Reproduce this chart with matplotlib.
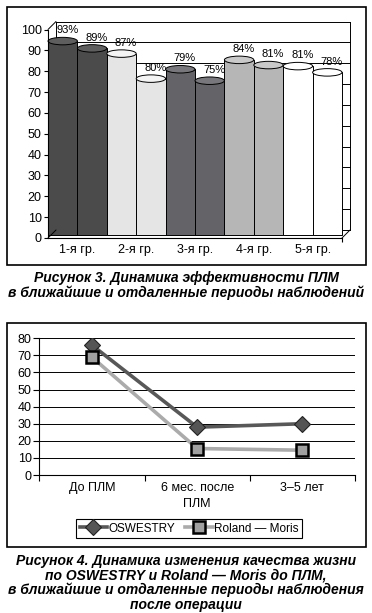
import matplotlib
matplotlib.use("Agg")
import matplotlib.pyplot as plt
import numpy as np
from matplotlib.lines import Line2D
from matplotlib.patches import ConnectionPatch, Ellipse, Rectangle
from matplotlib.transforms import ScaledTranslation

plt.rcParams["font.family"] = ["Liberation Sans", "DejaVu Sans"]

# Figure 3: efficiency by group (two columns per group)
group_labels = ["1-я гр.", "2-я гр.", "3-я гр.", "4-я гр.", "5-я гр."]
bar_values = [93, 89.5, 87, 75, 79.5, 74, 84, 81.5, 81, 78]
bar_labels = ["93%", "89%", "87%", "80%", "79%", "75%", "84%", "81%", "81%", "78%"]
group_colors = ["#4b4b4b", "#e5e5e5", "#646468", "#b6b6b6", "#ffffff"]
cap_colors = ["#5e5e5e", "#f4f4f4", "#78787c", "#c9c9c9", "#ffffff"]

# Figure 4: quality of life scores
periods = ["До ПЛМ", "6 мес. после\nПЛМ", "3–5 лет"]
oswestry = [76, 28, 30]
roland_moris = [69, 15.5, 14.5]

W, H = 372, 613
fig = plt.figure(figsize=(W / 100, H / 100), dpi=100)


def fx(px):
    return px / W


def fy(px):
    return 1 - px / H


# ---------- top chart ----------
ax = fig.add_axes([fx(48), fy(238), fx(342) - fx(48), fy(29.5) - fy(238)])
ax.set_xlim(0, 10)
ax.set_ylim(0, 100)
ax.patch.set_alpha(0)

wall = ax.transData + ScaledTranslation(8 / 100, 8 / 100, fig.dpi_scale_trans)
lift = ax.transData + ScaledTranslation(0, 3 / 100, fig.dpi_scale_trans)

for v in range(10, 101, 10):
    ax.plot([0, 10], [v, v], color="black", lw=0.7, transform=wall, zorder=1, clip_on=False)
for xv in (0, 10):
    ax.plot([xv, xv], [0, 100], color="black", lw=0.7, transform=wall, zorder=1, clip_on=False)
ax.plot([0, 10], [0, 0], color="black", lw=0.7, transform=wall, zorder=1, clip_on=False)
for pt in [(0, 100), (0, 0), (10, 0)]:
    fig.add_artist(ConnectionPatch(xyA=pt, coordsA=ax.transData, xyB=pt, coordsB=wall,
                                   color="black", lw=0.7, zorder=1))

x = np.arange(len(bar_values)) + 0.5
colors = [group_colors[i // 2] for i in range(len(bar_values))]
bars = ax.bar(x, bar_values, width=1.0, color=colors, edgecolor="black", linewidth=0.7)
ell_h = 7.5 / ((238 - 29.5) / 100)
for i, (patch, xi, h) in enumerate(zip(bars.patches, x, bar_values)):
    patch.set_transform(lift)
    patch.set_zorder(3 + 2 * i)
    patch.set_clip_on(False)
    cap = Ellipse((xi, h), 1.0, ell_h, facecolor=cap_colors[i // 2], edgecolor="black",
                  linewidth=0.7, transform=lift, zorder=4 + 2 * i, clip_on=False)
    ax.add_patch(cap)
    ax.annotate(bar_labels[i], (xi, h), xytext=(3.2, 9.9), textcoords="offset points",
                ha="center", va="center", fontsize=8, zorder=40)

for s in ("top", "right"):
    ax.spines[s].set_visible(False)
for s in ("left", "bottom"):
    ax.spines[s].set_linewidth(0.8)
    ax.spines[s].set_zorder(30)
ax.set_yticks(range(0, 101, 10))
ax.set_xticks(np.arange(1, 10, 2))
ax.set_xticklabels(group_labels)
ax.tick_params(axis="y", direction="out", length=3, width=0.8, labelsize=9, pad=1.5)
ax.tick_params(axis="x", length=0, labelsize=9, pad=4.5)
ax.set_xticks([10], minor=True)
ax.tick_params(axis="x", which="minor", direction="out", length=3, width=0.8)

# ---------- bottom chart ----------
bx = fig.add_axes([fx(39.3), fy(475), fx(355) - fx(39.3), fy(338.3) - fy(475)])
bx.set_xlim(0, 3)
bx.set_ylim(0, 80)
px = np.arange(len(periods)) + 0.5
osw_style = dict(color="#585858", lw=2.6, marker="D", markersize=8,
                 markerfacecolor="#555555", markeredgecolor="#222222", markeredgewidth=0.8)
rm_style = dict(color="#ababab", lw=2.6, marker="s", markersize=8.5,
                markerfacecolor="#a0a0a0", markeredgecolor="black", markeredgewidth=1.8)
bx.plot(px, oswestry, zorder=4, **osw_style)
bx.plot(px, roland_moris, zorder=5, **rm_style)
bx.set_yticks(range(0, 81, 10))
bx.grid(axis="y", color="black", lw=0.7)
bx.set_axisbelow(True)
for s in ("top", "right"):
    bx.spines[s].set_visible(False)
for s in ("left", "bottom"):
    bx.spines[s].set_linewidth(0.8)
bx.set_xticks(px)
bx.set_xticklabels(periods)
for lbl in bx.get_xticklabels():
    lbl.set_linespacing(1.45)
bx.set_xticks(np.arange(0, 4), minor=True)
bx.tick_params(axis="x", which="major", length=0, labelsize=9, pad=5)
bx.tick_params(axis="x", which="minor", direction="out", length=4, width=0.8)
bx.tick_params(axis="y", direction="out", length=4, width=0.8, labelsize=9, pad=1.5)

handles = [Line2D([], [], **osw_style), Line2D([], [], **rm_style)]
leg = bx.legend(handles, ["OSWESTRY", "Roland — Moris"], loc="center",
                bbox_to_anchor=(fx(189), fy(528.5)), bbox_transform=fig.transFigure,
                ncol=2, frameon=True, fancybox=False, edgecolor="black", framealpha=1,
                fontsize=8.5, handlelength=2.3, columnspacing=0.9, borderpad=0.3,
                handletextpad=0.1)
leg.get_frame().set_linewidth(0.8)

# ---------- frames and captions ----------
for top, bottom in [(7.3, 265), (322.7, 547.3)]:
    fig.add_artist(Rectangle((fx(7.3), fy(bottom)), fx(365.7) - fx(7.3), fy(top) - fy(bottom),
                             transform=fig.transFigure, fill=False, edgecolor="black", lw=1.2))

caption3 = ["Рисунок 3. Динамика эффективности ПЛМ",
            "в ближайшие и отдаленные периоды наблюдений"]
caption4 = ["Рисунок 4. Динамика изменения качества жизни",
            "по OSWESTRY и Roland — Moris до ПЛМ,",
            "в ближайшие и отдаленные периоды наблюдения",
            "после операции"]
for lines, start in [(caption3, 282.3), (caption4, 565)]:
    for k, line in enumerate(lines):
        fig.text(0.5, fy(start + 14.6 * k), line, ha="center", va="baseline",
                 fontsize=10, fontweight="bold", fontstyle="italic")

fig.savefig("out.png", dpi=100)
